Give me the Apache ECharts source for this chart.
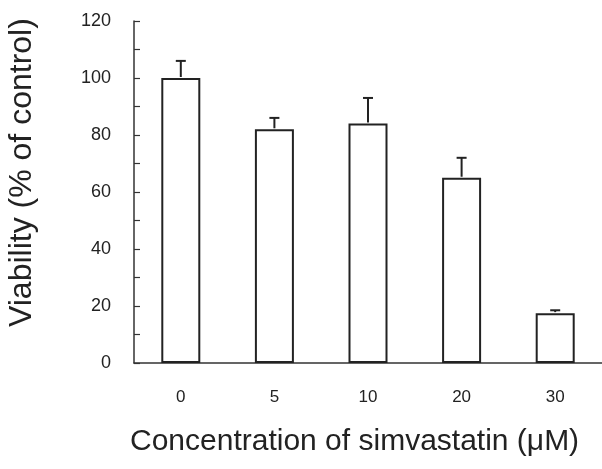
<!DOCTYPE html>
<html>
<head>
<meta charset="utf-8">
<script src="https://cdn.jsdelivr.net/npm/echarts@6/dist/echarts.min.js"></script>
<style>html,body{margin:0;padding:0;background:#fff}#c{width:602px;height:469px}</style>
</head>
<body>
<div id="c"></div>
<script>
const categories = ['0', '5', '10', '20', '30'];
const viability = [100, 82, 84, 65, 17.5];
const errors = [6, 4, 9, 7, 1];
const yTicks = [0, 20, 40, 60, 80, 100, 120];
const xTitle = 'Concentration of simvastatin (\u03bcM)';
const yTitle = 'Viability (% of control)';

const chart = echarts.init(document.getElementById('c'));
const font = 'Liberation Sans, Arial, sans-serif';
chart.setOption({
  animation: false,
  backgroundColor: '#fff',
  grid: { left: 134, top: 21, width: 472, bottom: 106 },
  xAxis: {
    type: 'category',
    data: categories,
    axisLine: { lineStyle: { color: '#333', width: 1.5 } },
    axisTick: { show: false },
    axisLabel: { color: '#222', fontSize: 17, fontFamily: font, margin: 26 }
  },
  yAxis: {
    type: 'value',
    min: yTicks[0], max: yTicks[yTicks.length - 1], interval: 20,
    splitLine: { show: false },
    axisLine: { show: true, lineStyle: { color: '#333', width: 1.5 } },
    axisTick: { show: true, inside: true, length: 6, lineStyle: { color: '#333', width: 1.2 } },
    minorTick: { show: true, splitNumber: 2, length: 6, lineStyle: { color: '#333', width: 1.2 } },
    axisLabel: { color: '#222', fontSize: 18, fontFamily: font, margin: 23 }
  },
  graphic: [
    { type: 'text', left: 130, top: 427, style: { text: xTitle, fontSize: 30, fontFamily: font, fill: '#222' } },
    { type: 'text', x: 6, y: 327, rotation: Math.PI / 2, style: { text: yTitle, fontSize: 32, fontFamily: font, fill: '#222' } }
  ],
  series: [
    {
      type: 'bar',
      data: viability,
      barWidth: 39,
      itemStyle: { color: '#fff', borderColor: '#222', borderWidth: 2 },
      z: 2
    },
    {
      type: 'custom',
      data: viability.map((v, i) => [i, v, v + errors[i]]),
      z: 3,
      renderItem: function (params, api) {
        const top = api.coord([api.value(0), api.value(1)]);
        const hi = api.coord([api.value(0), api.value(2)]);
        const half = 5;
        return {
          type: 'group',
          children: [
            { type: 'line', shape: { x1: top[0], y1: top[1] - 1, x2: hi[0], y2: hi[1] }, style: { stroke: '#222', lineWidth: 2 } },
            { type: 'line', shape: { x1: hi[0] - half, y1: hi[1], x2: hi[0] + half, y2: hi[1] }, style: { stroke: '#222', lineWidth: 2 } }
          ]
        };
      }
    }
  ]
});
</script>
</body>
</html>
